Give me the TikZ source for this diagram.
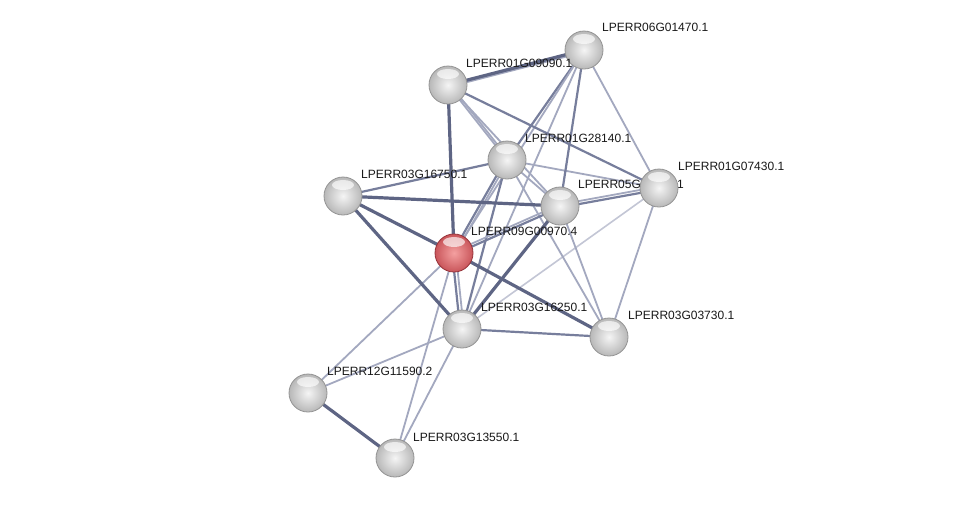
\documentclass[tikz,border=0pt]{standalone}
\usepackage{fontspec}
\setmainfont{Liberation Sans}
\usetikzlibrary{backgrounds}
\definecolor{ethick}{HTML}{5E6584}
\definecolor{emed}{HTML}{777E9C}
\definecolor{ethin}{HTML}{A3A8BF}
\definecolor{elight}{HTML}{C3C6D5}
\definecolor{redin}{HTML}{F4A0A0}
\definecolor{redout}{HTML}{C9555A}
\definecolor{redrim}{HTML}{96333A}
\tikzset{
  sphere/.style={circle, inner sep=0pt, minimum size=38pt, draw=black!42, line width=0.8pt,
    inner color=black!4, outer color=black!28,
    path picture={\fill[white, opacity=0.65] ([yshift=11pt]path picture bounding box.center) ellipse [x radius=11pt, y radius=5pt];}},
  redsphere/.style={sphere, draw=redrim, inner color=redin, outer color=redout},
  lbl/.style={anchor=west, inner sep=0pt, font=\fontsize{12}{14}\selectfont, text=black!90},
  ethk/.style={draw=ethick, line width=3.2pt},
  emd/.style={draw=emed, line width=2.2pt},
  etn/.style={draw=ethin, line width=1.8pt},
  elt/.style={draw=elight, line width=1.6pt},
}
\begin{document}
\begin{tikzpicture}[x=1pt,y=-1pt]
\useasboundingbox (0,0) rectangle (976,504);
% nodes
\node[sphere] (A) at (584,50) {};
\node[sphere] (B) at (448,85) {};
\node[sphere] (C) at (507,160) {};
\node[sphere] (D) at (343,196) {};
\node[sphere] (E) at (560,206) {};
\node[lbl] (lE) at (578,184) {LPERR05G};
\node[lbl, anchor=east] (lE2) at (684,184) {1};
\node[sphere] (F) at (659,188) {};
\node[redsphere] (G) at (454,253) {};
\node[sphere] (H) at (462,329) {};
\node[sphere] (I) at (609,337) {};
\node[sphere] (J) at (308,393) {};
\node[sphere] (K) at (395,458) {};
% labels
\node[lbl] (lA) at (602,27) {LPERR06G01470.1};
\node[lbl] (lB) at (466,63) {LPERR01G09090.1};
\node[lbl] (lC) at (525,138) {LPERR01G28140.1};
\node[lbl] (lD) at (361,174) {LPERR03G16750.1};
\node[lbl] (lF) at (678,166) {LPERR01G07430.1};
\node[lbl] (lG) at (471,231) {LPERR09G00970.4};
\node[lbl] (lH) at (481,307) {LPERR03G16250.1};
\node[lbl] (lI) at (628,315) {LPERR03G03730.1};
\node[lbl] (lJ) at (327,371) {LPERR12G11590.2};
\node[lbl] (lK) at (413,437) {LPERR03G13550.1};
% edges
\begin{scope}[on background layer]
\fill[white] (0,0) rectangle (976,504);
% light / thin
\draw[elt] (F.center) -- (H.center);
\draw[etn] (A.center) -- (F.center);
\draw[etn] (C.center) -- (F.center);
\draw[etn] (F.center) -- (I.center);
\draw[etn] (E.center) -- (I.center);
\draw[etn] (C.center) -- (I.center);
\draw[etn] (G.center) -- (J.center);
\draw[etn] (H.center) -- (J.center);
\draw[etn] (G.center) -- (K.center);
\draw[etn] (H.center) -- (K.center);
\draw[etn] (C.center) -- (E.center);
\draw[etn, transform canvas={xshift=2.5pt}] (B.center) -- (C.center);
\draw[etn] (B.center) -- (E.center);
\draw[etn] (A.center) -- (H.center);
\draw[etn, transform canvas={yshift=-2pt}] (A.center) -- (B.center);
% medium
\draw[emd] (A.center) -- (C.center);
\draw[etn] (A.center) -- (G.center);
\draw[emd] (C.center) -- (D.center);
\draw[emd, transform canvas={xshift=-1.5pt}] (C.center) -- (G.center);
\draw[etn, transform canvas={xshift=1.5pt}] (C.center) -- (G.center);
\draw[emd] (C.center) -- (H.center);
\draw[emd] (B.center) -- (F.center);
\draw[emd, transform canvas={yshift=-1.5pt}] (E.center) -- (F.center);
\draw[etn, transform canvas={yshift=1.5pt}] (E.center) -- (F.center);
\draw[emd, transform canvas={yshift=-1.5pt}] (E.center) -- (G.center);
\draw[etn, transform canvas={yshift=1.5pt}] (E.center) -- (G.center);
\draw[emd] (A.center) -- (E.center);
\draw[emd] (H.center) -- (I.center);
\draw[etn] (B.center) -- (C.center);
% thick
\draw[ethk] (A.center) -- (B.center);
\draw[ethk] (B.center) -- (G.center);
\draw[ethk] (D.center) -- (G.center);
\draw[ethk] (D.center) -- (H.center);
\draw[ethk] (D.center) -- (E.center);
\draw[ethk] (G.center) -- (I.center);
\draw[ethk] (J.center) -- (K.center);
\draw[ethk] (E.center) -- (H.center);
\draw[emd, transform canvas={xshift=-1.8pt}] (G.center) -- (H.center);
\draw[etn, transform canvas={xshift=1.8pt}] (G.center) -- (H.center);
\end{scope}
\end{tikzpicture}
\end{document}
